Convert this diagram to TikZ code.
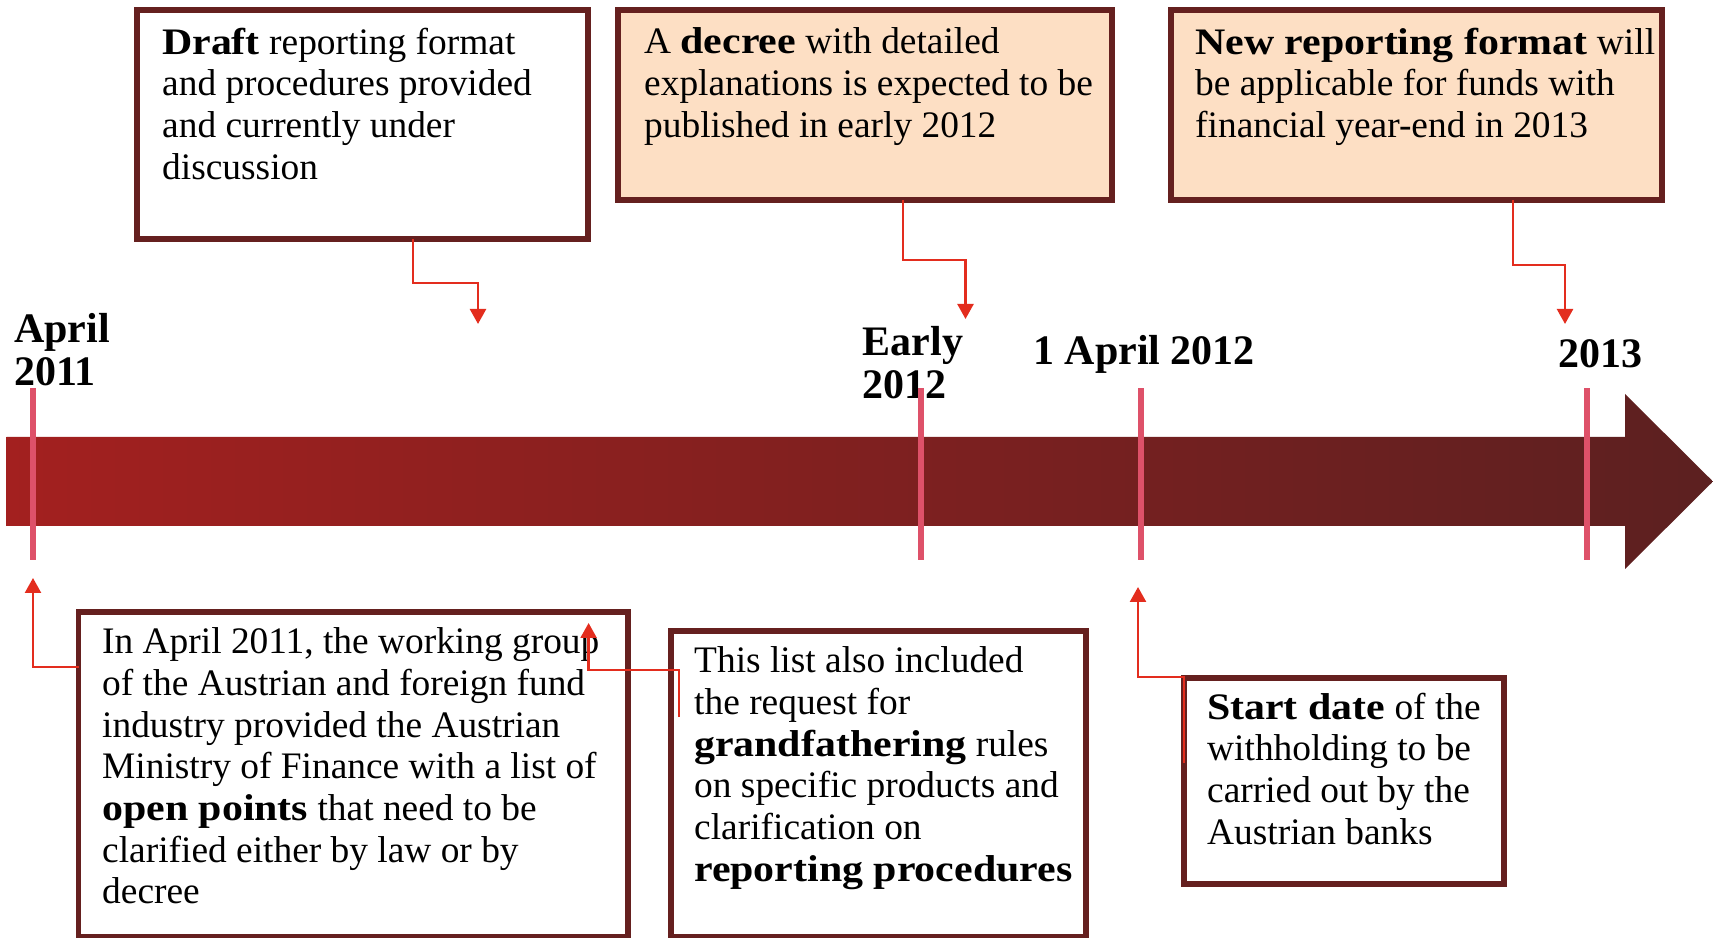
\documentclass[tikz,border=0pt]{standalone}
\usepackage{fontspec}
\setmainfont{Liberation Serif}[BoldFeatures={FakeStretch=1.12}]
\newfontfamily\datefont{Liberation Serif}
\usepackage{xcolor}
\usetikzlibrary{arrows.meta,calc}
\definecolor{boxbrown}{HTML}{65201F}
\definecolor{peach}{HTML}{FDDFC4}
\definecolor{linkred}{HTML}{E32D1E}
\definecolor{tickpink}{HTML}{DE5169}
\definecolor{barred}{HTML}{A3201F}
\definecolor{bardark}{HTML}{5C2020}

\begin{document}
\begin{tikzpicture}[x=1pt,y=1pt,
    box/.style={draw=boxbrown, line width=5.5pt, fill=white, anchor=north west, outer sep=0pt, inner sep=0pt},
    hot/.style={box, fill=peach},
    txt/.style={anchor=north west, inner sep=0pt, align=left, font=\fontsize{37.4}{41.7}\selectfont},
    date/.style={anchor=north west, inner sep=0pt, align=left, font=\datefont\fontsize{42}{43}\selectfont\bfseries},
    conn/.style={linkred, line width=2.4pt, -{Triangle[width=16pt,length=15pt]}},
    tick/.style={tickpink, line width=5.5pt}]

\useasboundingbox (0,0) rectangle (1713,937);

\shade [left color=barred, right color=bardark] (6.5,411) -- (1625,411) -- (1625,368) -- (1713,455.5) -- (1625,543) -- (1625,500) -- (6.5,500) -- cycle;

\node [box, minimum width=451, minimum height=229] (draft) at (137,927){};
\node [hot, minimum width=494, minimum height=190] (decree) at (618,927){};
\node [hot, minimum width=491, minimum height=190] (newfmt) at (1171,927){};
\node [box, minimum width=549.5, minimum height=324.5] (openpts) at (78.5,325){};
\node [box, minimum width=415, minimum height=305.5] (grandf) at (671,306){};
\node [box, minimum width=320, minimum height=206] (startd) at (1184,259){};

\node [txt] (draftT) at (162,909.5){\textbf{Draft} reporting format\\and procedures provided\\and currently under\\discussion};
\node [txt] (decreeT) at (644,909.5){A \textbf{decree} with detailed\\explanations is expected to be\\published in early 2012};
\node [txt] (newfmtT) at (1195,909.5){\textbf{New reporting format} will\\be applicable for funds with\\financial year-end in 2013};
\node [txt] (openptsT) at (102,309.5){In April 2011, the working group\\of the Austrian and foreign fund\\industry provided the Austrian\\Ministry of Finance with a list of\\\textbf{open points} that need to be\\clarified either by law or by\\decree};
\node [txt] (grandfT) at (694,290.5){This list also included\\the request for\\\textbf{grandfathering} rules\\on specific products and\\clarification on\\\textbf{reporting procedures}};
\node [txt] (startdT) at (1207,244.5){\textbf{Start date} of the\\withholding to be\\carried out by the\\Austrian banks};

\node [date] (d2011) at (14,623.7){April\\2011};
\node [date] (dearly) at (862.6,610.7){Early\\2012};
\node [date] (dapril) at (1033,601.7){1 April 2012};
\node [date] (d2013) at (1558,597.7){2013};

\draw[tick] (33,377) -- (33,549);
\draw[tick] (921,377) -- (921,549);
\draw[tick] (1141,377) -- (1141,549);
\draw[tick] (1587,377) -- (1587,549);

\coordinate (tipdraft) at (478,613);
\coordinate (tipdecree) at (965.5,618);
\coordinate (tipnew) at (1565,613);
\coordinate (tipopen) at (33,359);
\coordinate (tipgrand) at (588.6,314);
\coordinate (tipstart) at (1138,350);

\draw[conn] ($(draft.south)+(50.5,0)$) -- ++(0,-44) -| (tipdraft);
\draw[conn] ($(decree.south)+(38,0)$) -- ++(0,-60) -| (tipdecree);
\draw[conn] ($(newfmt.south)+(96.5,0)$) -- ++(0,-65) -| (tipnew);
\draw[conn] ($(openpts.west)+(0,107)$) -| (tipopen);
\draw[conn] ($(grandf.west)+(8,66.5)$) -- ++(0,47) -| (tipgrand);
\draw[conn] ($(startd.west)+(0,18)$) -- ++(0,86) -| (tipstart);
\end{tikzpicture}
\end{document}
